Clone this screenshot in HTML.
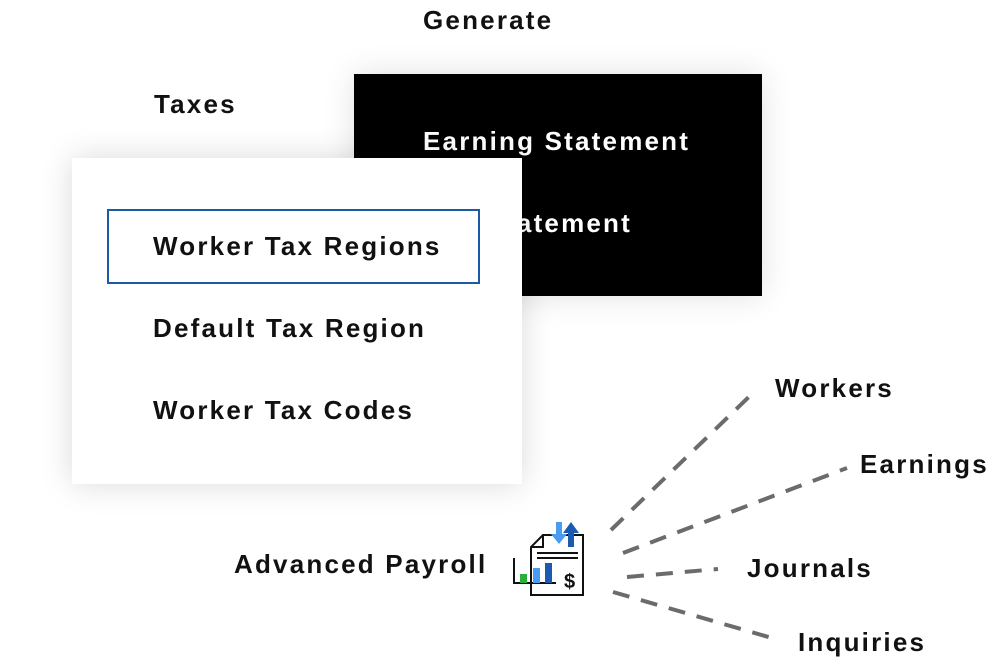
<!DOCTYPE html>
<html><head><style>
body{margin:0;width:986px;height:662px;background:#fff;position:relative;overflow:hidden;font-family:"Liberation Sans",sans-serif;font-weight:bold;}
.t{position:absolute;font-size:26px;letter-spacing:2.2px;color:#111;white-space:nowrap;line-height:1;}
.black{position:absolute;left:354px;top:74px;width:408px;height:222px;background:#000;box-shadow:0 0 30px rgba(0,0,0,0.12);}
.white{position:absolute;left:72px;top:158px;width:450px;height:326px;background:#fff;box-shadow:0 0 30px rgba(0,0,0,0.15);}
.sel{position:absolute;left:107px;top:209px;width:369px;height:71px;border:2px solid #1a5aa8;}
</style></head><body>
<div class="t" style="left:423px;top:7px">Generate</div>
<div class="t" style="left:154px;top:91px">Taxes</div>
<div class="black">
<div class="t" style="left:69px;top:54px;color:#fff">Earning Statement</div>
<div class="t" style="right:130px;top:136px;color:#fff">Earning Statement</div>
</div>
<div class="white"></div>
<div class="sel"></div>
<div class="t" style="left:153px;top:233px">Worker Tax Regions</div>
<div class="t" style="left:153px;top:315px">Default Tax Region</div>
<div class="t" style="left:153px;top:397px">Worker Tax Codes</div>
<div class="t" style="left:234px;top:551px">Advanced Payroll</div>
<div class="t" style="left:775px;top:375px">Workers</div>
<div class="t" style="left:860px;top:451px">Earnings</div>
<div class="t" style="left:747px;top:555px">Journals</div>
<div class="t" style="left:798px;top:629px">Inquiries</div>
<svg style="position:absolute;left:0;top:0" width="986" height="662">
<g stroke="#6b6b6b" stroke-width="4" stroke-dasharray="17,12" fill="none">
<line x1="611" y1="530" x2="755" y2="391"/>
<line x1="623" y1="553" x2="847" y2="468"/>
<line x1="627" y1="577" x2="718" y2="569"/>
<line x1="613" y1="592" x2="772" y2="638"/>
</g>
<g fill="none" stroke="#111" stroke-width="2">
<path d="M543 535 L531 547 L531 595 L583 595 L583 535 Z"/>
<path d="M531 547 L543 547 L543 535"/>
<line x1="537" y1="553" x2="578" y2="553"/>
<line x1="537" y1="558" x2="578" y2="558"/>
<polyline points="514,558 514,583 556,583"/>
</g>
<rect x="520" y="574" width="7" height="9" fill="#2ab03a"/>
<rect x="533" y="568" width="7" height="15" fill="#4a9cf0"/>
<rect x="545" y="563" width="7" height="20" fill="#1a5ab0"/>
<text x="564" y="588" font-size="20" font-family="Liberation Sans" fill="#111">$</text>
<path d="M556 522 h6 v12 h5 l-8 10 l-8 -10 h5z" fill="#4a9cf0"/>
<path d="M568 547 h6 v-14 h5 l-8 -11 l-8 11 h5z" fill="#1a5ab0"/>
</svg>
</body></html>
